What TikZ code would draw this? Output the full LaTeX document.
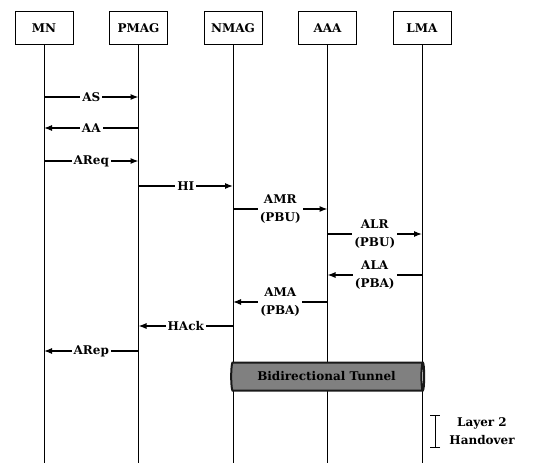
\documentclass[tikz,border=0pt]{standalone}
\usepackage{fontspec}
\setmainfont{DejaVu Serif}
\usetikzlibrary{arrows.meta, positioning, shapes.geometric}

\begin{document}
\begin{tikzpicture}[
    x=1pt, y=-1pt,
    node distance=10mm and 35.5pt,
    >={Latex[length=8pt,width=6pt]},
    font=\fontsize{12}{18}\selectfont\bfseries,
    entity/.style={rectangle, draw, line width=1pt, minimum width=58pt, minimum height=33pt},
    lifeline/.style={line width=1pt},
    msg/.style={->, line width=1.1pt},
    lbl/.style={fill=white, inner sep=2pt, align=center},
    tunnel/.style={cylinder, draw=black!90, line width=2pt, cylinder uses custom fill,
        cylinder body fill=black!50, cylinder end fill=white, aspect=0.3,
        minimum height=193pt, minimum width=28pt, inner sep=0pt, text=black},
    bracket/.style={{Bar[width=10pt]}-{Bar[width=10pt]}, line width=1pt}
]
\useasboundingbox (0,0) rectangle (544,463);
% entities
\node[entity] (mn) at (44,28) {MN};
\node[entity, right=of mn] (pmag) {PMAG};
\node[entity, right=of pmag] (nmag) {NMAG};
\node[entity, right=of nmag] (aaa) {AAA};
\node[entity, right=of aaa] (lma) {LMA};
% lifelines
\foreach \ent in {mn, pmag, nmag, aaa, lma}
    \draw[lifeline] (\ent.south) -- (\ent |- 0,463);
% messages
\foreach \src/\dst/\yy/\txt in {mn/pmag/97/AS, pmag/mn/128/AA, mn/pmag/161/AReq,
        pmag/nmag/186/HI, nmag/aaa/209/{AMR\\(PBU)}, aaa/lma/234/{ALR\\(PBU)},
        lma/aaa/275/{ALA\\(PBA)}, aaa/nmag/302/{AMA\\(PBA)}, nmag/pmag/326/HAck,
        pmag/mn/351/ARep}
    \draw[msg] (\src |- 0,\yy) -- node[lbl] {\txt} (\dst |- 0,\yy);
% tunnel
\node[tunnel] (tun) at (326.5,376.5) {Bidirectional Tunnel};
% layer 2 handover
\coordinate (l2top) at (435,415);
\coordinate (l2bot) at (435,448);
\draw[bracket] (l2top) -- (l2bot);
\node[align=center] (l2) at (482,431.5) {Layer 2\\Handover};
\end{tikzpicture}
\end{document}
